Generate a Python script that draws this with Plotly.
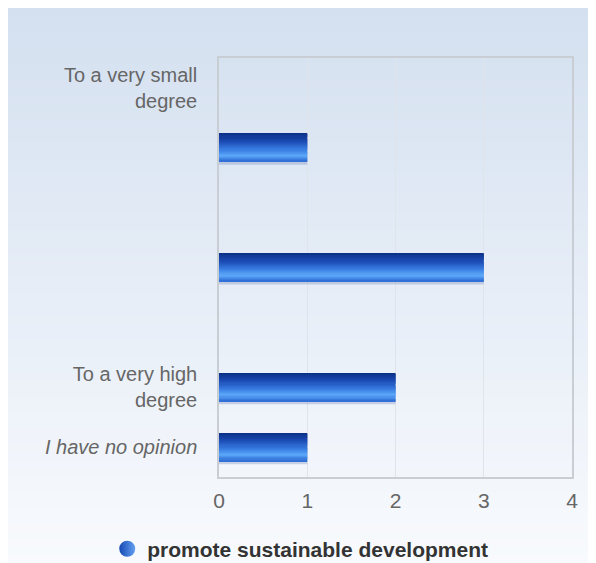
import plotly.graph_objects as go

# ---- data ----
categories = ["To a very small<br>degree", " ", "  ", "   ", "    ",
              "To a very high<br>degree", "<i>I have no opinion</i>"]
values = [0, 1, 0, 3, 0, 2, 1]
series_name = "promote sustainable development"
x_ticks = [0, 1, 2, 3, 4]

# ---- styling ----
W, H = 588, 555
ML, MR, MT, MB = 211, 24, 50, 86
BAR_W = 0.47
grad_stops = [(0.0, (10, 46, 132)), (0.3, (28, 76, 182)), (0.6, (58, 128, 228)),
              (0.8, (92, 168, 250)), (1.0, (44, 106, 210))]


def interp(t):
    for (t0, c0), (t1, c1) in zip(grad_stops[:-1], grad_stops[1:]):
        if t0 <= t <= t1:
            f = (t - t0) / (t1 - t0) if t1 > t0 else 0
            return "rgb(%d,%d,%d)" % tuple(round(a + (b - a) * f) for a, b in zip(c0, c1))
    return "rgb(%d,%d,%d)" % grad_stops[-1][1]


fig = go.Figure()

# soft shadow under bars
fig.add_trace(go.Bar(
    x=values, y=categories, orientation="h",
    offset=-BAR_W / 2 + 0.02, width=BAR_W + 0.03,
    marker=dict(color="rgba(120,140,190,0.35)", line=dict(width=0)),
    showlegend=False, hoverinfo="skip"))

# gradient bars built from thin strips
N = 26
for i in range(N):
    fig.add_trace(go.Bar(
        x=values, y=categories, orientation="h",
        offset=-BAR_W / 2 + i * BAR_W / N, width=BAR_W / N * 1.08,
        marker=dict(color=interp((i + 0.5) / N), line=dict(width=0)),
        showlegend=False, hoverinfo="skip"))

# legend entry
fig.add_trace(go.Scatter(
    x=[None], y=[None], mode="markers", name=series_name,
    marker=dict(symbol="circle", size=16, color="rgb(22,72,180)",
                gradient=dict(type="horizontal", color="rgb(100,160,240)"),
                line=dict(width=0))))

# background gradient via shapes (paper coordinates span the whole figure)
pw = W - ML - MR
ph = H - MT - MB
top = (212, 224, 240)
bot = (248, 250, 253)
NS = 70
shapes = []
for i in range(NS):
    f = i / (NS - 1)
    c = tuple(round(a + (b - a) * f) for a, b in zip(top, bot))
    y_top_px = i * H / NS
    y_bot_px = (i + 1) * H / NS + 1
    shapes.append(dict(type="rect", xref="paper", yref="paper", layer="below",
                       x0=-ML / pw - 0.05, x1=1 + MR / pw + 0.05,
                       y0=(H - MB - y_top_px) / ph, y1=(H - MB - y_bot_px) / ph,
                       fillcolor="rgb(%d,%d,%d)" % c, line=dict(width=0)))

fig.update_layout(
    width=W, height=H,
    margin=dict(l=ML, r=MR, t=MT, b=MB, autoexpand=False),
    paper_bgcolor="rgb(230,236,246)",
    plot_bgcolor="rgba(0,0,0,0)",
    barmode="overlay",
    shapes=shapes,
    font=dict(family="Liberation Sans, Arial, sans-serif", color="#666666", size=20),
    showlegend=True,
    legend=dict(orientation="h", xref="container", x=0.497, xanchor="center",
                yref="container", y=0.025, yanchor="middle",
                font=dict(size=21, color="#333333", family="Liberation Sans, Arial, sans-serif",
                          weight="bold"),
                bgcolor="rgba(0,0,0,0)", itemsizing="trace"),
    xaxis=dict(range=[0, 4], tickvals=x_ticks, showgrid=True, gridcolor="#dfe3ea",
               gridwidth=1, zeroline=False, showline=True, linecolor="#c9cdd4",
               linewidth=1.5, mirror=True, ticks="", ticklabelstandoff=4,
               tickfont=dict(size=21, color="#666666"), fixedrange=True),
    yaxis=dict(categoryorder="array", categoryarray=categories, autorange="reversed",
               showgrid=False, zeroline=False, showline=True, linecolor="#c9cdd4",
               linewidth=1.5, mirror=True, ticks="", ticklabelstandoff=16,
               tickfont=dict(size=20, color="#666666"), fixedrange=True),
)

fig.write_html("out.html")
